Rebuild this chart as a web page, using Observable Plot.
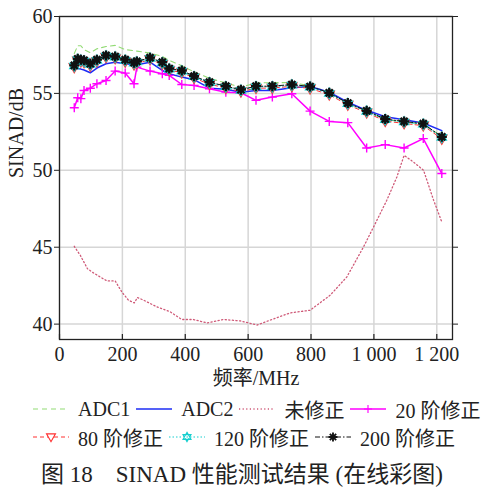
<!DOCTYPE html>
<html><head><meta charset="utf-8">
<script src="https://cdn.jsdelivr.net/npm/d3@7"></script>
<script src="https://cdn.jsdelivr.net/npm/@observablehq/plot@0.6"></script>
<style>
body{margin:0;background:#fff;font-family:'Liberation Serif','Noto Sans CJK SC',serif;color:#222;}
#wrap{width:484px;}
.row{display:flex;align-items:center;height:28px;padding-left:33px;font-size:20px;white-space:nowrap}
.item{display:flex;align-items:center;margin-right:6px}
.item svg{margin-right:9px;flex:none}
#cap{text-align:center;font-size:23px;height:30px;line-height:30px;margin-top:9px;white-space:nowrap}
</style></head><body><div id="wrap"></div>
<script>
// ---------- data ----------
const freq = [47, 58, 68, 78, 98, 119, 148, 177, 209, 237, 246, 288, 327, 349, 389, 428, 477, 529, 577, 625, 677, 739, 797, 858, 917, 977, 1036, 1096, 1157, 1216];
const adc1 = [57.6, 58.1, 58.1, 57.85, 57.65, 57.9, 58.05, 58.12, 57.85, 57.78, 57.75, 57.62, 57.4, 57.15, 56.8, 56.4, 55.98, 55.68, 55.4, 55.68, 55.7, 55.7, 55.5, 55.05, 54.35, 53.85, 53.3, 53.15, 53.0, 52.2];
const adc2 = [56.65, 56.62, 56.58, 56.52, 56.34, 56.65, 56.93, 57.03, 56.93, 56.86, 56.86, 57.03, 56.49, 56.28, 56.06, 55.89, 55.34, 55.27, 55.08, 55.19, 55.19, 55.37, 55.45, 55.08, 54.43, 53.9, 53.48, 53.28, 53.08, 52.58];
const corr20 = [54.07, 54.72, 54.66, 55.19, 55.34, 55.63, 55.84, 56.45, 56.32, 55.63, 56.71, 56.45, 56.28, 56.17, 55.58, 55.52, 55.3, 55.08, 55.04, 54.55, 54.76, 54.98, 53.85, 53.18, 53.1, 51.45, 51.67, 51.45, 52.06, 49.79];
const corr80 = [56.7, 57.12, 57.07, 57.02, 56.8, 57.07, 57.35, 57.28, 57.06, 56.88, 56.95, 57.2, 56.9, 56.5, 56.36, 56.0, 55.6, 55.35, 55.12, 55.34, 55.35, 55.46, 55.32, 54.92, 54.25, 53.75, 53.2, 53.05, 52.9, 52.05];
const corr120 = [56.78, 57.2, 57.15, 57.1, 56.88, 57.15, 57.43, 57.36, 57.15, 56.96, 57.04, 57.28, 56.98, 56.58, 56.45, 56.08, 55.69, 55.43, 55.2, 55.43, 55.43, 55.54, 55.41, 55.0, 54.33, 53.83, 53.29, 53.14, 52.99, 52.14];
const corr200 = [56.82, 57.25, 57.19, 57.15, 56.93, 57.19, 57.47, 57.4, 57.19, 57.0, 57.08, 57.32, 57.03, 56.62, 56.49, 56.12, 55.73, 55.47, 55.24, 55.47, 55.47, 55.58, 55.45, 55.04, 54.37, 53.87, 53.33, 53.18, 53.03, 52.18];
const freqRaw = [47, 66, 89, 108, 129, 151, 177, 198, 219, 238, 248, 267, 310, 352, 389, 426, 469, 522, 575, 617, 628, 670, 734, 797, 861, 914, 967, 999, 1041, 1073, 1096, 1126, 1158, 1190, 1216];
const raw = [45.06, 44.48, 43.6, 43.33, 43.07, 42.81, 42.81, 42.1, 41.56, 41.38, 41.73, 41.56, 41.12, 40.8, 40.3, 40.3, 40.08, 40.3, 40.21, 40.0, 39.94, 40.26, 40.73, 40.9, 41.88, 43.07, 45.02, 46.32, 48.05, 49.56, 50.97, 50.54, 50.0, 48.05, 46.64];
const xTicks = [0, 200, 400, 600, 800, 1000, 1200];
const yTicks = [40, 45, 50, 55, 60];
const seriesNames = ["ADC1", "ADC2", "未修正", "20 阶修正", "80 阶修正", "120 阶修正", "200 阶修正"];
const xLabel = "频率/MHz";
const yLabel = "SINAD/dB";
const caption = "图 18\u2003SINAD 性能测试结果 (在线彩图)";

// ---------- symbols ----------
const rOf = s => Math.sqrt(s / Math.PI);
const symTriDown = {draw(c, s){const r = rOf(s); c.moveTo(-r, -r*0.7); c.lineTo(r, -r*0.7); c.lineTo(0, r*1.05); c.closePath();}};
const symHexagram = {draw(c, s){const r = rOf(s); for (const a0 of [-Math.PI/2, Math.PI/2]) { for (let k = 0; k < 3; k++) { const a = a0 + k*2*Math.PI/3; const x = r*Math.cos(a), y = r*Math.sin(a); if (k) c.lineTo(x, y); else c.moveTo(x, y);} c.closePath(); }}};
const symAster = {draw(c, s){const r = rOf(s); for (let k = 0; k < 4; k++) { const a = k*Math.PI/4; c.moveTo(r*Math.cos(a), r*Math.sin(a)); c.lineTo(-r*Math.cos(a), -r*Math.sin(a)); }}};
const symPlus = {draw(c, s){const r = rOf(s); c.moveTo(-r, 0); c.lineTo(r, 0); c.moveTo(0, -r); c.lineTo(0, r);}};

// ---------- styles ----------
const styles = [
  {stroke: "#92db74", width: 1.1, dash: "5,4"},
  {stroke: "#1d2cf5", width: 1.5, dash: null},
  {stroke: "#cf5a78", width: 1.3, dash: "1.2,2.4"},
  {stroke: "#ff00ff", width: 1.5, dash: null, sym: symPlus, r: 4.5, mfill: "none", mw: 1.4},
  {stroke: "#ff3030", width: 1, dash: "4,3", sym: symTriDown, r: 5, mfill: "white", mw: 1.4},
  {stroke: "#16cfcf", width: 1, dash: "1.5,2", sym: symHexagram, r: 5.2, mfill: "none", mw: 1.4},
  {stroke: "#111", width: 1, dash: "5,2,1.5,2", sym: symAster, r: 5, mfill: "none", mw: 2.3}
];
const seriesData = [
  freq.map((f, i) => ({f, v: adc1[i]})),
  freq.map((f, i) => ({f, v: adc2[i]})),
  freqRaw.map((f, i) => ({f, v: raw[i]})),
  freq.map((f, i) => ({f, v: corr20[i]})),
  freq.map((f, i) => ({f, v: corr80[i]})),
  freq.map((f, i) => ({f, v: corr120[i]})),
  freq.map((f, i) => ({f, v: corr200[i]}))
];

const seriesMarks = [];
seriesData.forEach((d, k) => {
  const st = styles[k];
  seriesMarks.push(Plot.line(d, {x: "f", y: "v", stroke: st.stroke, strokeWidth: st.width, strokeDasharray: st.dash}));
  if (st.sym) seriesMarks.push(Plot.dot(d, {x: "f", y: "v", symbol: st.sym, r: st.r, stroke: st.stroke, fill: st.mfill, strokeWidth: st.mw}));
});

const fmt = d => d >= 1000 ? d3.format(",")(d).replace(",", " ") : String(d);
const yDomain = [39, 60];

const chart = Plot.plot({
  width: 484, height: 392,
  marginLeft: 59, marginRight: 32, marginTop: 16, marginBottom: 53,
  x: {domain: [0, 1250]},
  y: {domain: yDomain},
  style: {fontFamily: "'Liberation Serif','Noto Sans CJK SC',serif", fontSize: "20px", color: "#222", background: "white", overflow: "visible"},
  marks: [
    Plot.ruleX(xTicks, {stroke: "#d6d6d6", strokeWidth: 1.5}),
    Plot.ruleY(yTicks, {stroke: "#d6d6d6", strokeWidth: 1.5}),
    ...seriesMarks,
    Plot.frame({stroke: "#222", strokeWidth: 1.3}),
    Plot.axisY({ticks: yTicks, tickSize: 5, tickPadding: 2, label: null, fontSize: 20, stroke: "#222"}),
    Plot.axisY({anchor: "right", ticks: yTicks, tickSize: 5, tickFormat: () => "", label: null, stroke: "#222"}),
    Plot.axisX({ticks: xTicks, tickSize: 0, tickPadding: 7, tickFormat: fmt, label: null, fontSize: 20}),
    Plot.ruleX(xTicks, {y1: yDomain[0], y2: yDomain[0], insetBottom: 5, stroke: "#222", strokeWidth: 1.2}),
    Plot.text([xLabel], {frameAnchor: "bottom", dy: 45, fontSize: 20, fill: "#222"}),
    Plot.text([yLabel], {frameAnchor: "left", rotate: -90, dx: -43, fontSize: 20, fill: "#222"})
  ]
});

const wrap = document.getElementById("wrap");
wrap.appendChild(chart);

// ---------- legend ----------
const legend = document.createElement("div");
legend.style.marginTop = "3px";
wrap.appendChild(legend);
const rows = [[0, 1, 2, 3], [4, 5, 6]];
rows.forEach(r => {
  const row = d3.select(legend).append("div").attr("class", "row");
  r.forEach(k => {
    const st = styles[k];
    const item = row.append("div").attr("class", "item");
    const svg = item.append("svg").attr("width", 36).attr("height", 20);
    svg.append("line").attr("x1", 0).attr("x2", 36).attr("y1", 10).attr("y2", 10)
      .attr("stroke", st.stroke).attr("stroke-width", st.width).attr("stroke-dasharray", st.dash);
    if (st.sym) {
      svg.append("path").attr("transform", "translate(18,10)")
        .attr("d", d3.symbol(st.sym, Math.PI * st.r * st.r * 0.8)())
        .attr("stroke", st.stroke).attr("fill", st.mfill).attr("stroke-width", st.mw * 0.8);
    }
    item.append("span").text(seriesNames[k]);
  });
});
const cap = document.createElement("div");
cap.id = "cap";
cap.textContent = caption;
wrap.appendChild(cap);
</script></body></html>
